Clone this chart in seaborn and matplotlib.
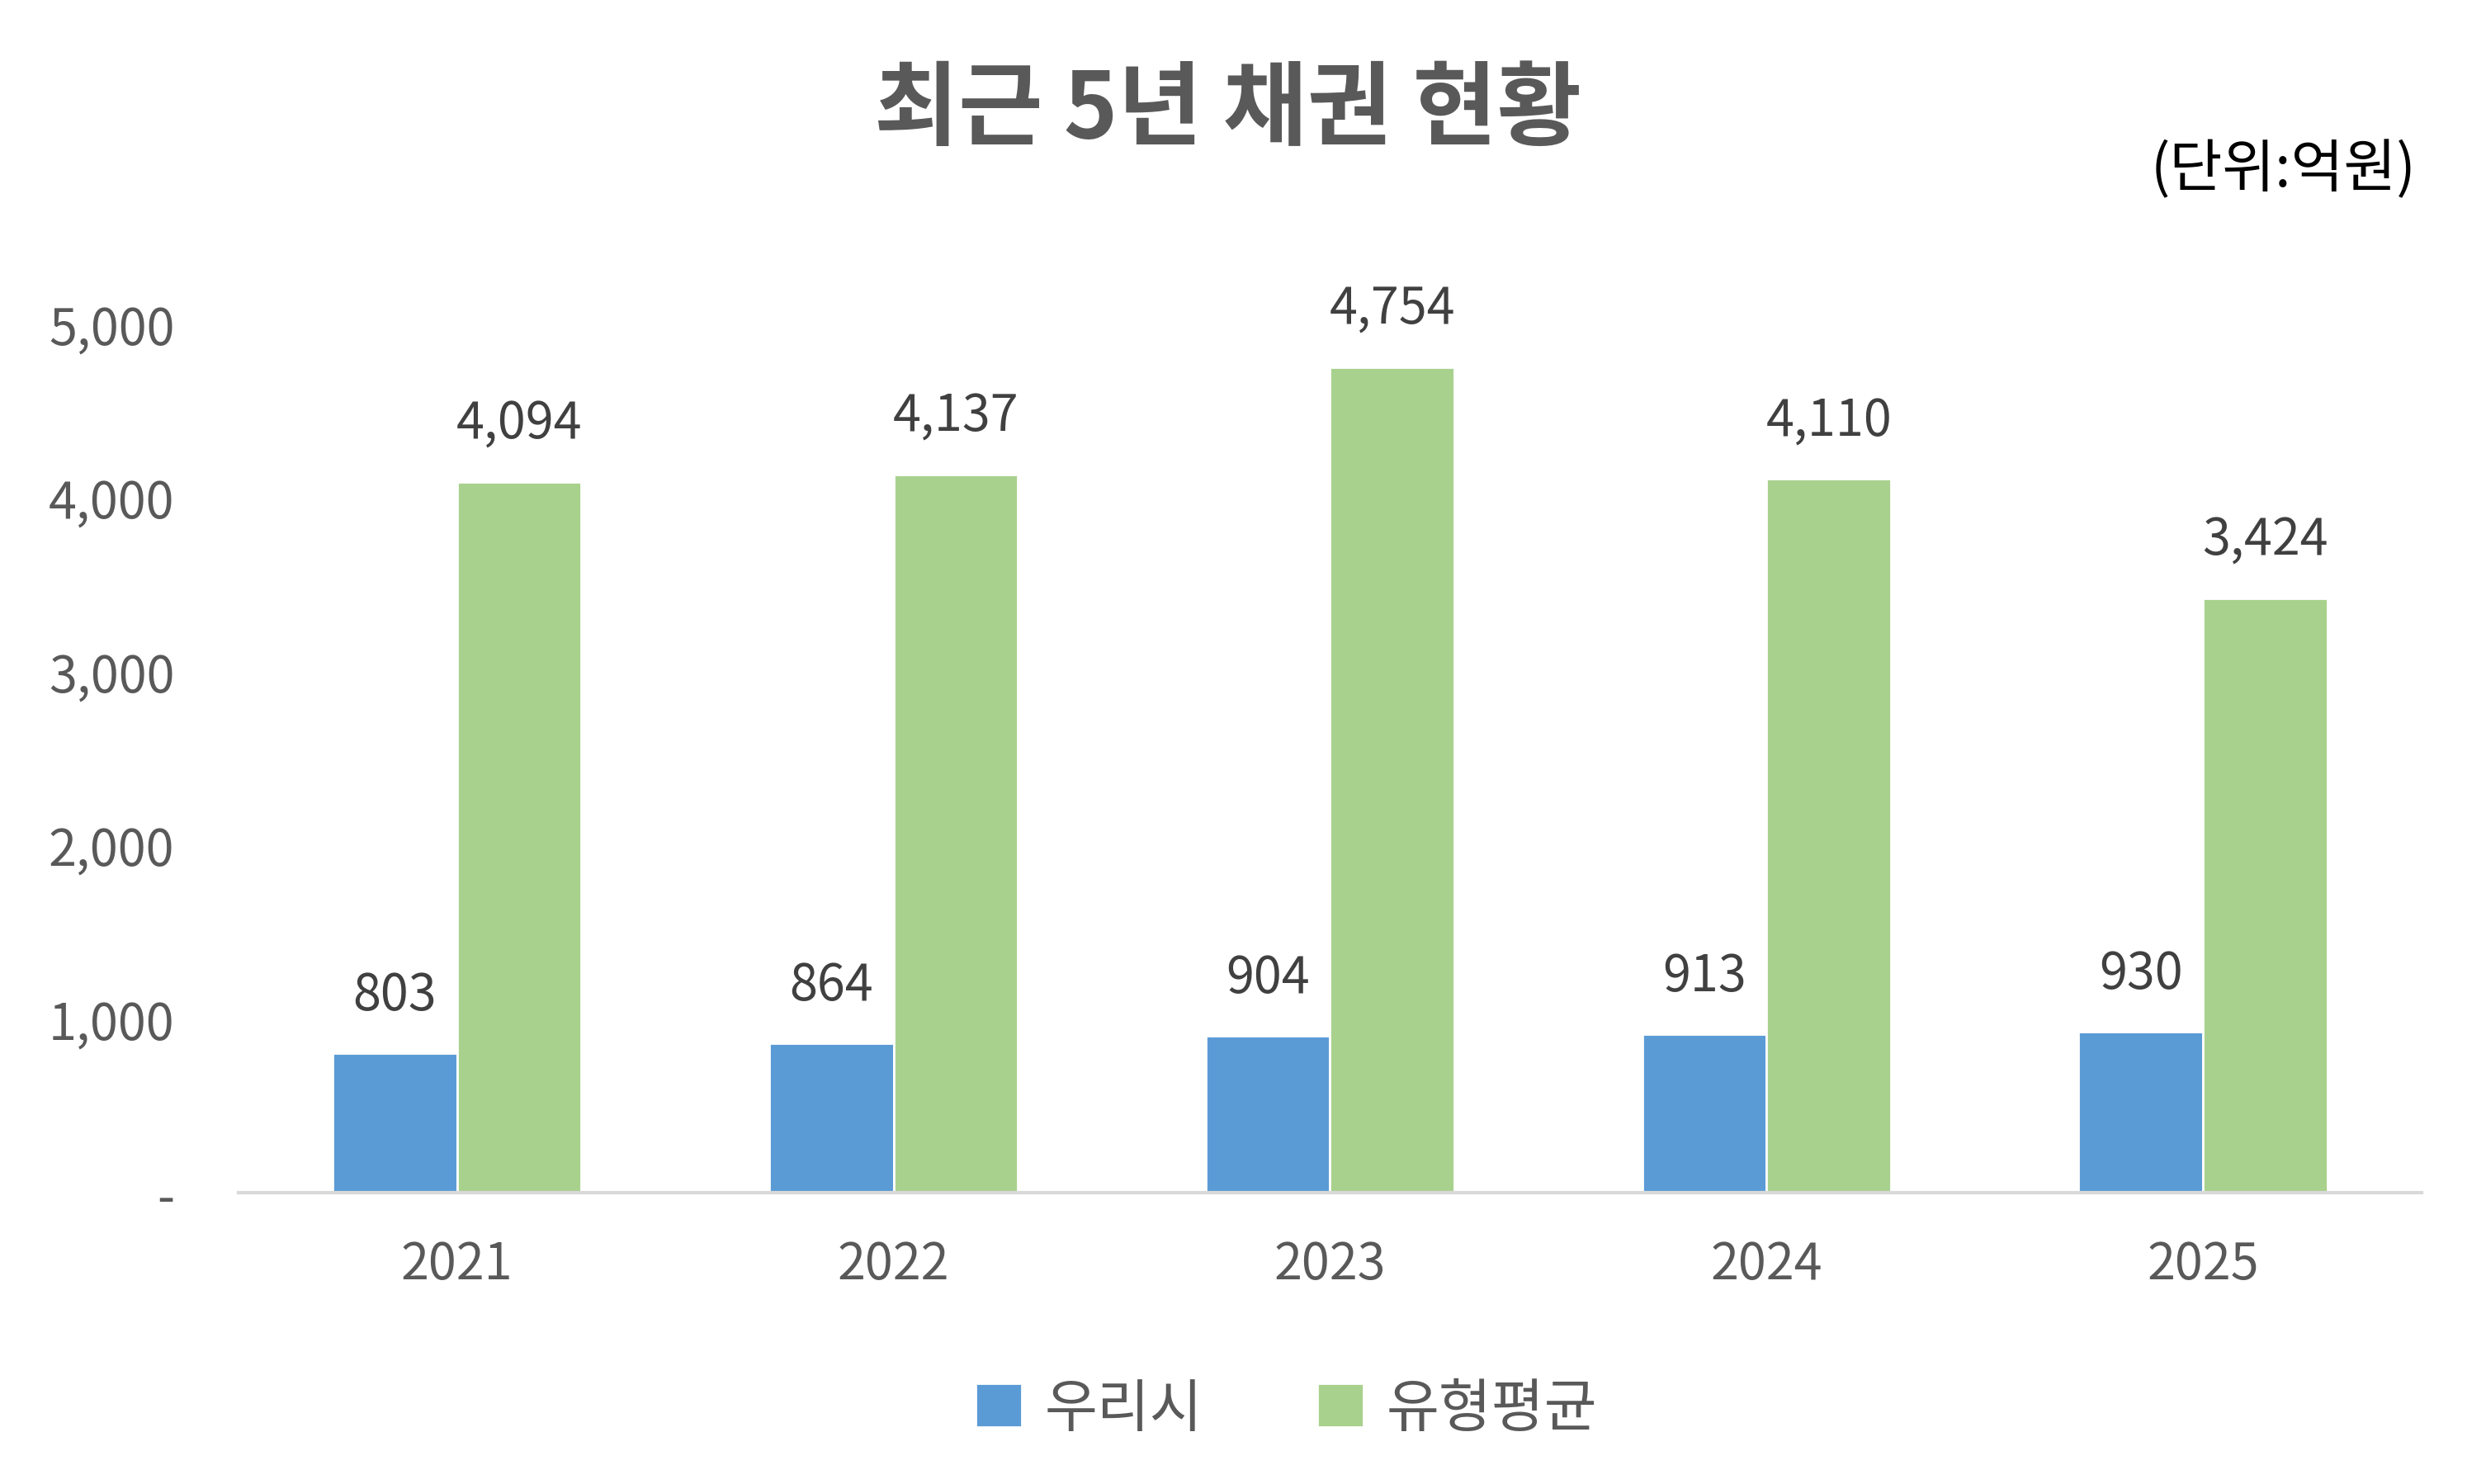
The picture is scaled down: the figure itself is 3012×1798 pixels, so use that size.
import matplotlib
matplotlib.use("Agg")
import matplotlib.pyplot as plt
import seaborn as sns
import pandas as pd

years = ["2021", "2022", "2023", "2024", "2025"]
ours = [803, 864, 904, 913, 930]
avg = [4094, 4137, 4754, 4110, 3424]
series = ["우리시", "유형평균"]
yticks = [0, 1000, 2000, 3000, 4000, 5000]

sns.set_theme(style="white")
plt.rcParams['font.family'] = ['Noto Sans CJK KR', 'DejaVu Sans']

df = pd.DataFrame({"year": years * 2, "value": ours + avg,
                   "series": [series[0]] * 5 + [series[1]] * 5})

fig = plt.figure(figsize=(15.06, 8.995), dpi=200)
ax = fig.add_axes([0.096, 0.196, 0.878, 0.585])
sns.barplot(data=df, x="year", y="value", hue="series", ax=ax, width=0.57,
            palette=["#5B9BD5", "#A9D18E"], saturation=1, legend=True)
ax.set_ylim(0, 5000)
ax.set_yticks(yticks)
ax.set_yticklabels(["-" if v == 0 else f"{v:,}" for v in yticks])
ax.set_xlabel(""); ax.set_ylabel("")
for c in ax.containers:
    ax.bar_label(c, labels=[f"{v:,.0f}" for v in c.datavalues], padding=14,
                 fontsize=22, color="#404040")
for s in ["top", "right", "left"]:
    ax.spines[s].set_visible(False)
ax.spines["bottom"].set_color("#D9D9D9")
ax.spines["bottom"].set_linewidth(1.5)
ax.tick_params(axis="both", length=0, labelsize=22, labelcolor="#595959")
ax.tick_params(axis="x", pad=20)
ax.tick_params(axis="y", pad=28)
ax.set_xlim(-0.5, 4.5)
leg = ax.legend(loc="upper center", bbox_to_anchor=(0.48, -0.155), ncol=2,
                frameon=False, fontsize=25, handlelength=0.8, handleheight=0.8,
                columnspacing=2, handletextpad=0.4)
for t in leg.get_texts():
    t.set_color("#595959")
fig.text(0.494, 0.925, "최근 5년 채권 현황", ha="center", va="center",
         fontsize=40, fontweight="bold", color="#595959")
fig.text(0.972, 0.885, "(단위:억원)", ha="right", va="center",
         fontsize=25, color="#000000")
fig.savefig("out.png", dpi=200)
